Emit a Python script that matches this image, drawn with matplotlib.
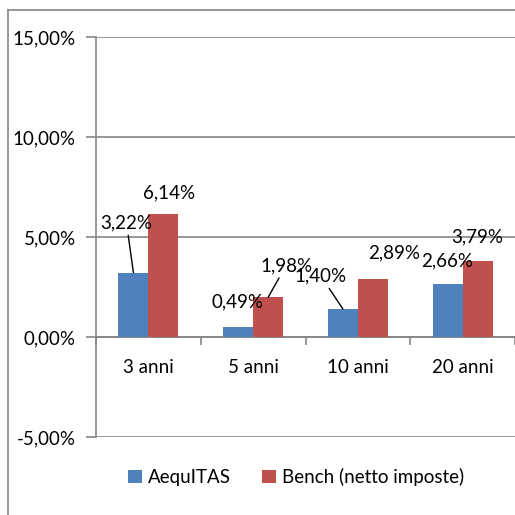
import matplotlib
matplotlib.use("Agg")
import matplotlib.pyplot as plt
from matplotlib.lines import Line2D
from matplotlib.ticker import FixedLocator, FuncFormatter
import numpy as np

categories = ["3 anni", "5 anni", "10 anni", "20 anni"]
aequitas = [3.22, 0.49, 1.40, 2.66]
bench = [6.14, 1.98, 2.89, 3.79]
series_names = ["AequITAS", "Bench (netto imposte)"]
y_ticks = [-5, 0, 5, 10, 15]

BLUE = "#4F81BD"
RED = "#C0504D"
GRAY = "#868686"
FONT = "Lato"
FS = 13.5

plt.rcParams["font.family"] = [FONT, "DejaVu Sans"]

fig = plt.figure(figsize=(5.15, 5.15), dpi=100)
W = H = 515.0
ax = fig.add_axes([96 / W, 1 - 437 / H, 1 - 96 / W, (437 - 37) / H])

x = np.arange(len(categories))
bw = 30 / 105.0
b1 = ax.bar(x - bw / 2, aequitas, bw, color=BLUE, label=series_names[0], zorder=3)
b2 = ax.bar(x + bw / 2, bench, bw, color=RED, label=series_names[1], zorder=3)

ax.set_xlim(-0.5, 3.5 - 1 / 105.0)
ax.set_ylim(-5, 15)

for t in y_ticks:
    ax.axhline(t, color=GRAY, lw=1.2, zorder=1)

for s in ["top", "right"]:
    ax.spines[s].set_visible(False)
ax.spines["left"].set_color(GRAY)
ax.spines["left"].set_linewidth(1.2)
ax.spines["bottom"].set_position(("data", 0))
ax.spines["bottom"].set_color(GRAY)
ax.spines["bottom"].set_linewidth(1.2)

ax.yaxis.set_major_locator(FixedLocator(y_ticks))
ax.yaxis.set_major_formatter(FuncFormatter(lambda v, p: f"{v:.2f}%".replace(".", ",")))
ax.tick_params(axis="y", length=7, width=1.2, color=GRAY, pad=7.5, labelsize=FS, labelcolor="black")

ax.set_xticks(x)
ax.set_xticklabels(categories)
ax.set_xticks(np.arange(-0.5, 4.0, 1.0), minor=True)
ax.tick_params(axis="x", which="major", length=0, pad=16, labelsize=FS)
ax.tick_params(axis="x", which="minor", length=6, width=1.2, color=GRAY)

offs_a = [(-7, 50, True), (-1, 25, False), (-22, 33, True), (-1, 23, False)]
offs_b = [(6, 21, False), (18, 32, True), (21, 26, False), (0, 24, False)]

def lab(v):
    return f"{v:.2f}%".replace(".", ",")

for bars, vals, offs in [(b1, aequitas, offs_a), (b2, bench, offs_b)]:
    for r, v, (dx, dy, leader) in zip(bars, vals, offs):
        cx = r.get_x() + r.get_width() / 2
        kw = {}
        if leader:
            kw["arrowprops"] = dict(arrowstyle="-", color="black", lw=1.0, shrinkA=1, shrinkB=0)
        ax.annotate(lab(v), xy=(cx, v), xytext=(dx, dy), textcoords="offset pixels",
                    ha="center", va="center", fontsize=FS, zorder=5, **kw)

fig.legend(handles=[b1, b2], labels=series_names, loc="center",
           bbox_to_anchor=(296 / W, 1 - 477 / H), ncol=2, frameon=False,
           fontsize=FS, handlelength=0.75, handleheight=0.75, handletextpad=0.3,
           columnspacing=1.7)

# outer chart-area frame (left and top edges visible)
fig.add_artist(Line2D([8 / W, 8 / W], [0, 1 - 10 / H], transform=fig.transFigure, color=GRAY, lw=1.2))
fig.add_artist(Line2D([8 / W, 1.02], [1 - 10 / H, 1 - 10 / H], transform=fig.transFigure, color=GRAY, lw=1.2))

fig.savefig("out.png", dpi=100)
